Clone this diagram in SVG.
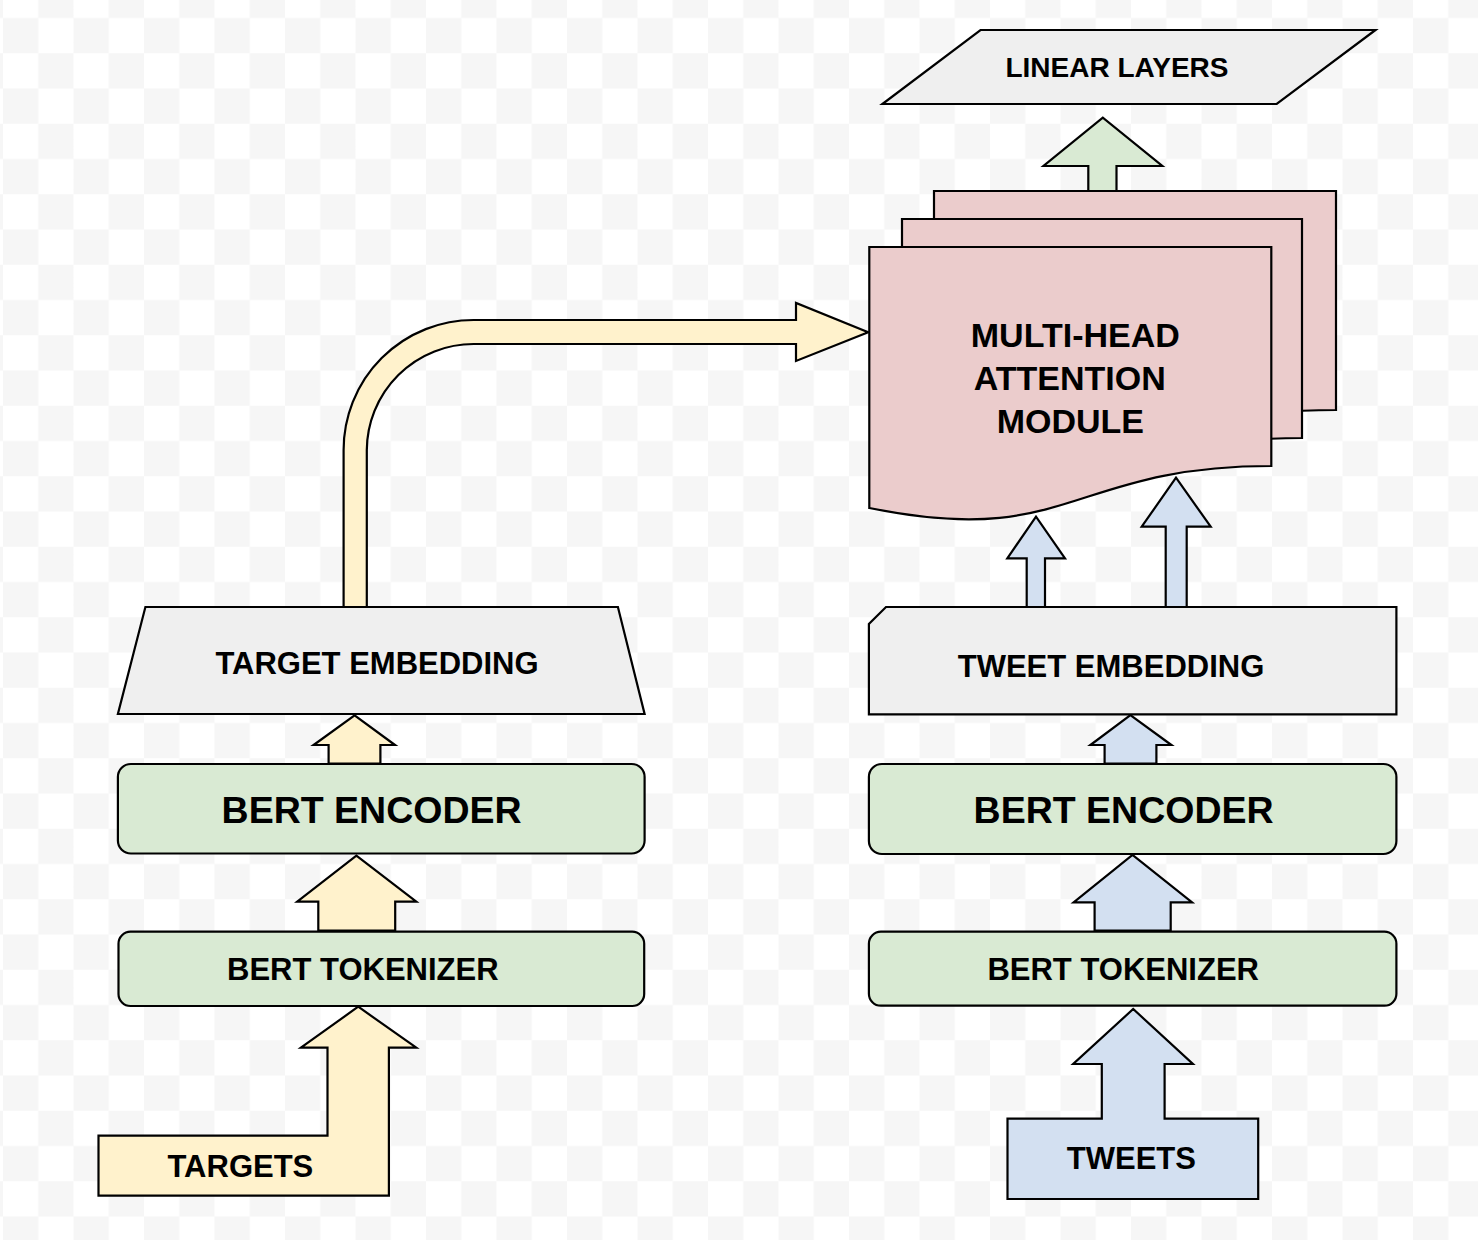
<svg xmlns="http://www.w3.org/2000/svg" width="1478" height="1240" viewBox="0 0 1478 1240">
<defs>
<pattern id="checker" patternUnits="userSpaceOnUse" x="3" y="-17.25" width="70.5" height="70.5">
<rect x="0" y="0" width="70.5" height="70.5" fill="#ffffff"/>
<rect x="35.25" y="0" width="35.25" height="35.25" fill="#f6f6f6"/>
<rect x="0" y="35.25" width="35.25" height="35.25" fill="#f6f6f6"/>
</pattern>
<style>
.s{stroke:#000;stroke-width:2.2;stroke-linejoin:miter}
.gray{fill:#efefef}
.green{fill:#d9ead3}
.yellow{fill:#fff2cc}
.blue{fill:#d3e0f1}
.pink{fill:#ebcccc}
text{font-family:"Liberation Sans",Arial,Helvetica,sans-serif;font-weight:bold;fill:#000;text-anchor:middle}
</style>
</defs>
<rect x="0" y="0" width="1478" height="1240" fill="url(#checker)"/>

<g id="connectors">
<path id="arrow-linear" class="s green" d="M1088.3,192.7 V166 H1043.5 L1102.8,117.7 L1162.3,166 H1116.5 V192.7 Z"/>
<path id="arrow-target-to-attn" class="s yellow" d="M343.6,607 V450 A130,130 0 0 1 473.6,320 H796 V303 L868.2,332.3 L796,361 V344 H473.6 A106.8,106.8 0 0 0 366.8,450 V607 Z"/>
<path id="arrow-tweet-attn-1" class="s blue" d="M1026.7,607.3 V558.3 H1007.3 L1036,516.7 L1065,558.3 H1045 V607.3 Z"/>
<path id="arrow-tweet-attn-2" class="s blue" d="M1165.7,609.3 V526.7 H1141.7 L1176,477.7 L1210.7,526.7 H1186.7 V609.3 Z"/>
<path id="arrow-enc-emb-left" class="s yellow" d="M328.6,763.5 V745 H313.6 L354.6,715.3 L395,745 H380.4 V763.5 Z"/>
<path id="arrow-tok-enc-left" class="s yellow" d="M318.3,930.5 V901.7 H297.2 L356.4,855.7 L416.3,901.7 H395.2 V930.5 Z"/>
<path id="arrow-enc-emb-right" class="s blue" d="M1104.6,763.5 V745 H1090.4 L1130.4,715 L1171.4,745 H1156.4 V763.5 Z"/>
<path id="arrow-tok-enc-right" class="s blue" d="M1094.6,930.5 V902.3 H1073.6 L1132.5,855 L1192.1,902.3 H1170.7 V930.5 Z"/>
</g>

<g id="linear-layers">
<path class="s gray" d="M980.5,30 H1375.5 L1276.7,104 H882.4 Z"/>
<text x="1117" y="77" font-size="28">LINEAR LAYERS</text>
</g>

<g id="attention-module">
<path class="s pink" d="M934,191 H1336 V410 C1135,410 1135,493 934,452 Z"/>
<path class="s pink" d="M902,219 H1302 V438 C1101,438 1101,521 902,480 Z"/>
<path class="s pink" d="M869.3,247 H1271.3 V466 C1070,466 1070,549 869.3,508 Z"/>
<text font-size="34"><tspan x="1075.3" y="346.5">MULTI-HEAD</tspan><tspan x="1069.7" y="390">ATTENTION</tspan><tspan x="1070.3" y="432.5">MODULE</tspan></text>
</g>

<g id="target-embedding">
<path class="s gray" d="M145.4,607 H617.9 L644.6,714 H117.9 Z"/>
<text x="377" y="673.5" font-size="31">TARGET EMBEDDING</text>
</g>

<g id="tweet-embedding">
<path class="s gray" d="M886,607 H1396.4 V714.3 H868.9 V624 Z"/>
<text x="1111" y="677.3" font-size="31">TWEET EMBEDDING</text>
</g>

<g id="bert-encoder-left">
<rect class="s green" x="117.9" y="764" width="526.7" height="89.5" rx="13" ry="13"/>
<text x="371.6" y="823.3" font-size="37.5">BERT ENCODER</text>
</g>

<g id="bert-encoder-right">
<rect class="s green" x="868.9" y="764" width="527.5" height="90" rx="13" ry="13"/>
<text x="1123.6" y="822.7" font-size="37.5">BERT ENCODER</text>
</g>

<g id="bert-tokenizer-left">
<rect class="s green" x="118.5" y="931.7" width="525.7" height="74.3" rx="12" ry="12"/>
<text x="362.8" y="980" font-size="31">BERT TOKENIZER</text>
</g>

<g id="bert-tokenizer-right">
<rect class="s green" x="868.9" y="931.7" width="527.5" height="74" rx="12" ry="12"/>
<text x="1123.2" y="980" font-size="31">BERT TOKENIZER</text>
</g>

<g id="targets">
<path class="s yellow" d="M98.5,1135.7 H327.5 V1047.7 H300.9 L358.2,1006.7 L416.3,1047.7 H388.9 V1195.7 H98.5 Z"/>
<text x="240.4" y="1176.7" font-size="31">TARGETS</text>
</g>

<g id="tweets">
<path class="s blue" d="M1007.5,1118.7 H1101.8 V1064 H1073.2 L1133.2,1009 L1192.9,1064 H1164.6 V1118.7 H1258.2 V1199 H1007.5 Z"/>
<text x="1131.4" y="1169.3" font-size="31">TWEETS</text>
</g>
</svg>
